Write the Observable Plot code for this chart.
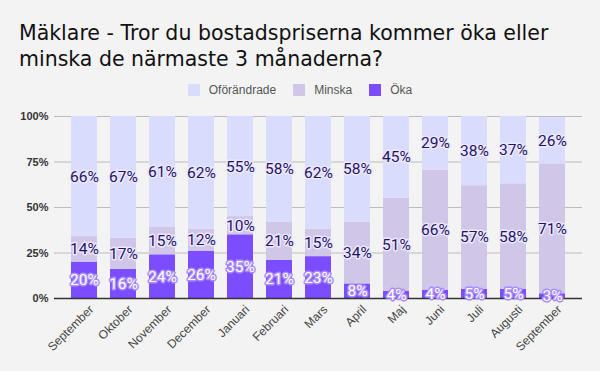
<!DOCTYPE html>
<html><head><meta charset="utf-8">
<script src="https://cdn.jsdelivr.net/npm/d3@7"></script>
<script src="https://cdn.jsdelivr.net/npm/@observablehq/plot@0.6"></script>
<style>
body{margin:0;background:#f3f3f3;width:600px;height:371px;overflow:hidden;font-family:"Liberation Sans",Arial,sans-serif;position:relative;}
#title{position:absolute;left:19px;top:20px;font-family:"DejaVu Sans",sans-serif;font-size:20.5px;line-height:26px;color:#111;white-space:nowrap;}
#legend{position:absolute;top:83px;left:0;width:600px;display:flex;justify-content:center;font-size:12px;line-height:14px;color:#555;}
#legend .item{display:flex;align-items:center;margin:0 8.5px;}
#legend .sw{width:12px;height:12px;margin-right:9px;}
#chart{position:absolute;top:100px;left:0;}
</style>
</head><body>
<div id="title">Mäklare - Tror du bostadspriserna kommer öka eller<br>minska de närmaste 3 månaderna?</div>
<div id="legend"></div>
<div id="chart"></div>
<script>
const months = ["September","Oktober","November","December","Januari","Februari","Mars","April","Maj","Juni","Juli","Augusti","September"];
const oka = [20,16,24,26,35,21,23,8,4,4.4,5,5,2.6];
const minska = [14,17,15,12,10,21,15,34,51,66.2,57,58,71.4];
const oforandrade = [66,67,61,62,55,58,62,58,45,29.4,38,37,25.5];
const seriesNames = ["Oförändrade","Minska","Öka"];
const seriesColors = ["#d9dcfd","#d0c6e7","#7c4dff"];
const stackOrder = ["Öka","Minska","Oförändrade"];
const yTicks = [0,25,50,75,100];

const values = {"Öka": oka, "Minska": minska, "Oförändrade": oforandrade};
const data = [];
months.forEach((m, i) => {
  for (const s of stackOrder) data.push({i, series: s, value: values[s][i]});
});

const legend = document.getElementById("legend");
seriesNames.forEach((s, k) => {
  const it = document.createElement("div");
  it.className = "item";
  const sw = document.createElement("span");
  sw.className = "sw";
  sw.style.background = seriesColors[k];
  const t = document.createElement("span");
  t.textContent = s;
  it.append(sw, t);
  legend.append(it);
});

const pct = d => Math.round(d.value) + "%";
const stackOpts = {x: "i", y: "value", z: "series", order: stackOrder};

const chart = Plot.plot({
  width: 600,
  height: 271,
  marginLeft: 54,
  marginRight: 18,
  marginTop: 16,
  marginBottom: 73,
  style: {background: "transparent", fontFamily: "'Liberation Sans', Arial, sans-serif", fontSize: "11px"},
  x: {domain: d3.range(months.length), paddingInner: 0.34, paddingOuter: 0.355, label: null},
  y: {domain: [0, 100], label: null},
  color: {domain: seriesNames, range: seriesColors},
  marks: [
    Plot.gridY(yTicks, {stroke: "#bbb", strokeOpacity: 1}),
    Plot.barY(data, Plot.stackY({...stackOpts, fill: "series"})),
    Plot.ruleY([0], {stroke: "#333", strokeWidth: 1.5}),
    Plot.text(data, Plot.stackY({...stackOpts, text: d => d.series === "Öka" ? "" : pct(d), fill: "#1e1462", stroke: "#ece8ff", strokeWidth: 3, fontSize: 15.5, fontFamily: "Roboto"})),
    Plot.text(data, Plot.stackY({...stackOpts, text: d => d.series === "Öka" ? pct(d) : "", fill: "white", stroke: "#a98cff", strokeWidth: 3, fontSize: 15.5, fontFamily: "Roboto"})),
    Plot.axisY({ticks: yTicks, tickFormat: d => d + "%", tickSize: 0, tickPadding: 6, fontWeight: "bold", fill: "#333", label: null}),
    Plot.axisX({tickFormat: i => months[i], tickRotate: -45, tickSize: 0, tickPadding: 6, dx: 7, dy: 3, fontSize: 12, fill: "#444", label: null})
  ]
});
document.getElementById("chart").append(chart);
</script>
</body></html>
